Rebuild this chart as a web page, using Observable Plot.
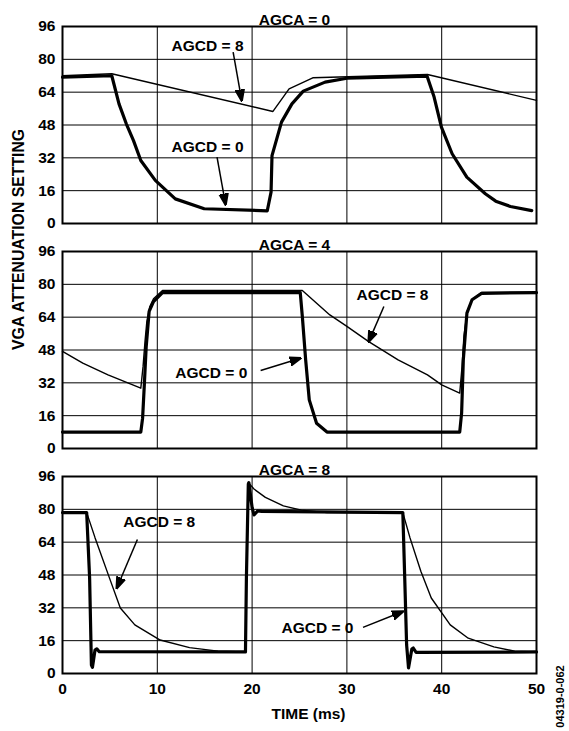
<!DOCTYPE html>
<html>
<head>
<meta charset="utf-8">
<script src="https://cdn.jsdelivr.net/npm/d3@7"></script>
<script src="https://cdn.jsdelivr.net/npm/@observablehq/plot@0.6"></script>
<style>
  html, body { margin: 0; padding: 0; background: #fff; }
  #chart { width: 569px; height: 731px; }
  svg { font-family: "Liberation Sans", Arial, sans-serif; }
</style>
</head>
<body>
<div id="chart"></div>
<script>
const panels = ["AGCA = 0", "AGCA = 4", "AGCA = 8"];
const yTicks = [0, 16, 32, 48, 64, 80, 96];
const xTicks = [0, 10, 20, 30, 40, 50];
const xGrid = [10, 20, 30, 40];

// [time (ms), VGA attenuation setting]
const agca0Agcd0 = [[0,71.3],[5.2,72],[5.96,58.3],[6.73,48.6],[7.49,40.4],[8.26,30.7],[9.79,21],[11.9,12],[14.95,7.2],[21.6,6.2],[22.0,15.3],[22.1,33.1],[23.1,49.4],[24.2,58.3],[25.4,64.5],[27.7,68.9],[30.0,70.8],[38.46,71.8],[39.2,61.6],[39.97,47],[41.1,34],[42.65,22.6],[44.6,14.5],[45.7,10.9],[47.25,8.3],[49.5,6.3]];
const agca0Agcd8 = [[0,72],[5.2,73],[22.2,54.6],[23.9,65.6],[26.4,71],[38.5,72.6],[50,60]];
const agca4Agcd0 = [[0,8],[8.26,8],[8.45,14.8],[8.64,31.8],[8.83,49.7],[9.14,66.8],[9.6,71.6],[10.55,76],[25.08,76],[25.3,64.3],[25.65,43.2],[26.03,23.7],[26.8,12.3],[27.9,8],[41.9,8],[42.1,17.2],[42.28,43.2],[42.66,66],[43.2,72.5],[44.2,75.6],[50,76]];
const agca4Agcd8 = [[0,47.3],[2.14,41.6],[4.8,35.9],[8.26,29.4],[8.5,40],[8.7,52],[8.9,62],[9.2,69],[9.6,73],[10.55,77],[25.3,77],[28.2,65.1],[30.0,59.5],[32.3,52.1],[35.4,43.2],[38.5,35.9],[40.0,31],[41.9,27],[42.15,40],[42.35,55],[42.7,67],[43.2,72.5],[44.2,76],[50,76]];
const agca8Agcd0 = [[0,78.4],[2.55,78.4],[2.86,46.6],[3.05,4.1],[3.16,3],[3.43,11.4],[3.62,12],[3.88,10.6],[19.3,10.5],[19.4,46.6],[19.6,92.3],[19.66,93],[20.0,80.9],[20.2,77.3],[20.6,79.2],[21.0,79],[35.9,78.4],[36.1,46.6],[36.3,13.9],[36.5,2.7],[36.85,11.9],[37.0,12.4],[37.3,10.3],[50,10.5]];
const agca8Agcd8 = [[0,78.4],[2.55,78.4],[3.43,66.2],[4.95,46.6],[6.1,31.9],[7.63,23.7],[10.3,16.3],[13.4,12.6],[16.4,10.9],[19.3,10.5],[19.4,46.6],[19.6,93],[20.2,89.9],[21.4,85.8],[23.3,81.7],[25.2,79.6],[27.9,78.4],[35.9,78.4],[36.65,66.2],[37.8,49.8],[38.9,36.8],[40.9,23.7],[42.8,17.2],[45.5,13],[47.7,10.9],[50,10.5]];

// annotation labels: panel, text, label position, arrow start, arrow end (data units)
const annotPanel = ["AGCA = 0","AGCA = 0","AGCA = 4","AGCA = 4","AGCA = 8","AGCA = 8"];
const annotText  = ["AGCD = 8","AGCD = 0","AGCD = 8","AGCD = 0","AGCD = 8","AGCD = 0"];
const annotLabel = [[15.3,86.3],[15.3,37.2],[34.8,74.9],[15.7,36.7],[10.2,74],[26.9,22.4]];
const annotFrom  = [[18.0,83.5],[16.3,32.3],[33.9,69.2],[20.9,38],[7.9,65.3],[31.7,22.5]];
const annotTo    = [[18.9,60],[17.2,9.3],[32.3,52.1],[25.1,44],[5.73,41.7],[35.9,30.2]];

const seriesList = [
  {panel: panels[0], agcd: 0, pts: agca0Agcd0},
  {panel: panels[0], agcd: 8, pts: agca0Agcd8},
  {panel: panels[1], agcd: 0, pts: agca4Agcd0},
  {panel: panels[1], agcd: 8, pts: agca4Agcd8},
  {panel: panels[2], agcd: 0, pts: agca8Agcd0},
  {panel: panels[2], agcd: 8, pts: agca8Agcd8}
];
const rows = seriesList.flatMap(s => s.pts.map(([t, v]) => ({panel: s.panel, agcd: s.agcd, t, v})));
const thick = rows.filter(d => d.agcd === 0);
const thin = rows.filter(d => d.agcd === 8);
const annots = annotText.map((text, i) => ({
  panel: annotPanel[i], text,
  lx: annotLabel[i][0], ly: annotLabel[i][1],
  x1: annotFrom[i][0], y1: annotFrom[i][1],
  x2: annotTo[i][0], y2: annotTo[i][1]
}));

const FS = 15.5;
const font = {fontFamily: "Liberation Sans, Arial, sans-serif", fontWeight: "bold", fill: "black"};

// filled triangular arrowhead marker
function filledArrow(color) {
  const ns = "http://www.w3.org/2000/svg";
  const m = document.createElementNS(ns, "marker");
  m.setAttribute("viewBox", "0 -5 10 10");
  m.setAttribute("refX", "9");
  m.setAttribute("refY", "0");
  m.setAttribute("markerWidth", "8");
  m.setAttribute("markerHeight", "8");
  m.setAttribute("orient", "auto");
  m.setAttribute("fill", color);
  const p = document.createElementNS(ns, "path");
  p.setAttribute("d", "M0,-3.6L10,0L0,3.6Z");
  m.appendChild(p);
  return m;
}

function build(customMarker) {
  const arrowMark = customMarker
    ? Plot.link(annots, {x1: "x1", y1: "y1", x2: "x2", y2: "y2", fy: "panel", stroke: "black", strokeWidth: 1.5, markerEnd: filledArrow})
    : Plot.arrow(annots, {x1: "x1", y1: "y1", x2: "x2", y2: "y2", fy: "panel", stroke: "black", strokeWidth: 1.5, headLength: 10, headAngle: 40});
  return Plot.plot({
    width: 569,
    height: 731,
    marginLeft: 62,
    marginRight: 33,
    marginTop: 26,
    marginBottom: 58,
    style: {fontFamily: "Liberation Sans, Arial, sans-serif", background: "white", overflow: "visible"},
    x: {domain: [0, 50]},
    y: {domain: [0, 96]},
    fy: {domain: panels, paddingInner: 0.125, paddingOuter: 0, axis: null, label: null},
    marks: [
      Plot.gridX(xGrid, {stroke: "black", strokeOpacity: 1, strokeWidth: 1}),
      Plot.gridY(yTicks, {stroke: "black", strokeOpacity: 1, strokeWidth: 1}),
      Plot.axisY(yTicks, {tickSize: 0, tickPadding: 7, label: null, fontSize: FS, ...font}),
      Plot.axisX(xTicks, {tickSize: 0, tickPadding: 9, label: null, fontSize: FS, ...font}),
      Plot.line(thin, {x: "t", y: "v", fy: "panel", stroke: "black", strokeWidth: 1.4, strokeLinejoin: "round"}),
      Plot.line(thick, {x: "t", y: "v", fy: "panel", stroke: "black", strokeWidth: 3.2, strokeLinejoin: "round"}),
      Plot.frame({stroke: "black", strokeWidth: 2}),
      Plot.text(panels, {fy: d => d, text: d => d, frameAnchor: "top", dy: -13, dx: -5, fontSize: FS, ...font}),
      Plot.text(annots, {x: "lx", y: "ly", fy: "panel", text: "text", fontSize: FS, ...font}),
      arrowMark,
      Plot.text([panels[1]], {fy: d => d, text: () => "VGA ATTENUATION SETTING", frameAnchor: "left", dx: -44, rotate: -90, fontSize: 15.8, ...font}),
      Plot.text([panels[2]], {fy: d => d, text: () => "TIME (ms)", frameAnchor: "bottom", dy: 45, dx: 9, fontSize: FS, ...font}),
      Plot.text([panels[2]], {fy: d => d, text: () => "04319-0-062", frameAnchor: "bottom-right", dx: 27, dy: 23, rotate: -90, textAnchor: "middle", fontSize: 11, ...font})
    ]
  });
}

let chart;
try { chart = build(true); } catch (e) { chart = build(false); }
document.getElementById("chart").appendChild(chart);
</script>
</body>
</html>
